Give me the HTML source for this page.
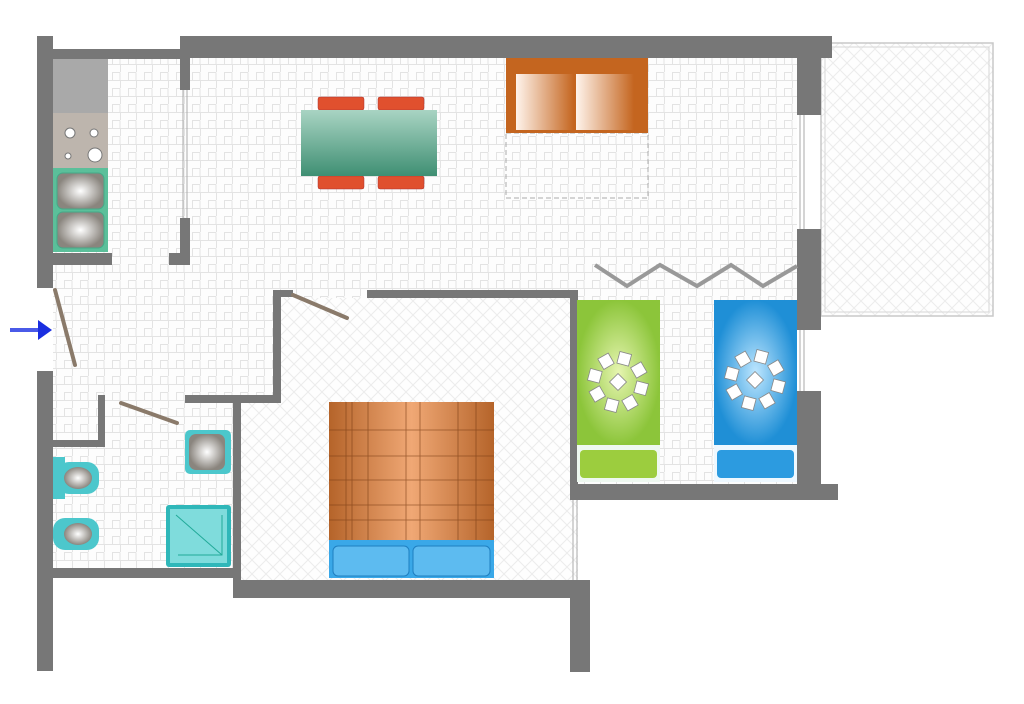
<!DOCTYPE html>
<html><head><meta charset="utf-8"><style>html,body{margin:0;padding:0;background:#fff}svg{display:block}</style></head><body>
<svg width="1024" height="704" viewBox="0 0 1024 704" xmlns="http://www.w3.org/2000/svg">
<defs>
<pattern id="tile" width="16" height="16" patternUnits="userSpaceOnUse">
<rect width="16" height="16" fill="#fdfdfd"/>
<path d="M0 0.5H16M0 8.5H8M8.5 0V8M0.5 8V16M8 8.5V16" stroke="#e3e3e3" stroke-width="1" fill="none"/>
</pattern>
<pattern id="diag" width="14" height="14" patternUnits="userSpaceOnUse">
<rect width="14" height="14" fill="#fefefe"/>
<path d="M0 0L14 14M14 0L0 14" stroke="#ececec" stroke-width="1"/>
</pattern>
<linearGradient id="tbl" x1="0" y1="0" x2="0" y2="1"><stop offset="0" stop-color="#a9d4c3"/><stop offset="1" stop-color="#3f8f73"/></linearGradient>
<linearGradient id="sofa" x1="0" y1="0" x2="1" y2="0"><stop offset="0" stop-color="#fff4ec"/><stop offset="1" stop-color="#c4651f"/></linearGradient>
<linearGradient id="bed" x1="0" y1="0" x2="1" y2="0"><stop offset="0" stop-color="#b5642a"/><stop offset="0.5" stop-color="#f0a875"/><stop offset="1" stop-color="#b5642a"/></linearGradient>
<radialGradient id="grn"><stop offset="0" stop-color="#e6f5b0"/><stop offset="1" stop-color="#8cc53a"/></radialGradient>
<radialGradient id="blu"><stop offset="0" stop-color="#bde6ff"/><stop offset="1" stop-color="#1f8fd6"/></radialGradient>
<radialGradient id="bowl"><stop offset="0" stop-color="#fff"/><stop offset="1" stop-color="#8a857e"/></radialGradient>
</defs>

<polygon points="53,58 797,58 797,484 578,484 578,580 240,580 240,568 53,568" fill="url(#tile)"/>
<polygon points="281,298 578,298 578,580 240,580 240,403 281,403" fill="url(#diag)"/>
<rect x="821" y="43" width="172" height="273" fill="url(#diag)" stroke="#c8c8c8" stroke-width="1.5"/>
<rect x="825" y="47" width="164" height="265" fill="none" stroke="#d6d6d6" stroke-width="1"/>

<g fill="#777">
<rect x="37" y="36" width="16" height="252"/>
<rect x="37" y="371" width="16" height="300"/>
<rect x="53" y="49" width="130" height="10"/>
<rect x="180" y="36" width="652" height="22"/>
<rect x="180" y="58" width="10" height="32"/>
<rect x="180" y="218" width="10" height="47"/>
<rect x="169" y="253" width="21" height="12"/>
<rect x="53" y="253" width="59" height="12"/>
<rect x="797" y="58" width="24" height="57"/>
<rect x="797" y="229" width="24" height="101"/>
<rect x="797" y="391" width="24" height="93"/>
<rect x="570" y="484" width="268" height="16"/>
<rect x="570" y="290" width="8" height="210"/>
<rect x="367" y="290" width="211" height="8"/>
<rect x="273" y="290" width="8" height="113"/>
<rect x="273" y="290" width="20" height="7"/>
<rect x="233" y="395" width="48" height="8"/>
<rect x="185" y="395" width="55" height="8"/>
<rect x="233" y="395" width="8" height="203"/>
<rect x="98" y="395" width="7" height="52"/>
<rect x="53" y="440" width="52" height="7"/>
<rect x="53" y="568" width="180" height="10"/>
<rect x="233" y="580" width="357" height="18"/>
<rect x="570" y="580" width="20" height="92"/>
</g>
<g stroke="#aaa" stroke-width="1" fill="none">
<path d="M183 90V218M187 90V218"/>
<path d="M800 115V229M804 115V229M800 330V391M804 330V391"/>
<path d="M573 500V580M577 500V580"/>
</g>

<rect x="53" y="59" width="55" height="54" fill="#a9a9a9"/>
<rect x="53" y="113" width="55" height="55" fill="#bdb5ad"/>
<g fill="#fff" stroke="#777"><circle cx="70" cy="133" r="5"/><circle cx="94" cy="133" r="4"/><circle cx="68" cy="156" r="3"/><circle cx="95" cy="155" r="7"/></g>
<rect x="53" y="168" width="55" height="84" fill="#5bbf9a"/>
<rect x="57" y="173" width="47" height="36" rx="6" fill="url(#bowl)" stroke="#4a8"/>
<rect x="57" y="212" width="47" height="36" rx="6" fill="url(#bowl)" stroke="#4a8"/>

<g fill="#e0502e" stroke="#a33" stroke-width="0.5">
<rect x="318" y="97" width="46" height="13" rx="2"/><rect x="378" y="97" width="46" height="13" rx="2"/>
<rect x="318" y="176" width="46" height="13" rx="2"/><rect x="378" y="176" width="46" height="13" rx="2"/>
</g>
<rect x="301" y="110" width="136" height="66" fill="url(#tbl)"/>

<rect x="506" y="133" width="142" height="65" fill="none" stroke="#aaa" stroke-dasharray="5,3"/>
<rect x="506" y="58" width="142" height="75" fill="#c4651f"/>
<rect x="516" y="74" width="58" height="56" fill="url(#sofa)"/>
<rect x="576" y="74" width="58" height="56" fill="url(#sofa)"/>

<g stroke="#8a7a6a" stroke-width="4" stroke-linecap="round">
<line x1="55" y1="290" x2="75" y2="365"/>
<line x1="293" y1="295" x2="347" y2="318"/>
<line x1="121" y1="403" x2="177" y2="423"/>
</g>
<path d="M10 330H40" stroke="#4a5ae8" stroke-width="4"/>
<polygon points="38,320 52,330 38,340" fill="#1a2ee0"/>

<polyline points="595,265 627,286 660,265 697,286 731,265 763,286 797,266" fill="none" stroke="#999" stroke-width="4"/>

<rect x="577" y="300" width="83" height="145" fill="url(#grn)"/>
<rect x="577" y="445" width="83" height="37" fill="#eef8f0"/>
<rect x="580" y="450" width="77" height="28" rx="4" fill="#9ccd3e"/>
<rect x="714" y="300" width="83" height="145" fill="url(#blu)"/>
<rect x="714" y="445" width="83" height="37" fill="#eef8ff"/>
<rect x="717" y="450" width="77" height="28" rx="4" fill="#2c9be0"/>
<g fill="#fff" stroke="#888" stroke-width="0.8">
<g transform="translate(618,382)"><rect x="-6" y="-6" width="12" height="12" transform="rotate(45)"/>
<rect x="-6" y="-30" width="12" height="12" transform="rotate(15)"/><rect x="-6" y="-30" width="12" height="12" transform="rotate(60)"/><rect x="-6" y="-30" width="12" height="12" transform="rotate(105)"/><rect x="-6" y="-30" width="12" height="12" transform="rotate(150)"/><rect x="-6" y="-30" width="12" height="12" transform="rotate(195)"/><rect x="-6" y="-30" width="12" height="12" transform="rotate(240)"/><rect x="-6" y="-30" width="12" height="12" transform="rotate(285)"/><rect x="-6" y="-30" width="12" height="12" transform="rotate(330)"/></g>
<g transform="translate(755,380)"><rect x="-6" y="-6" width="12" height="12" transform="rotate(45)"/>
<rect x="-6" y="-30" width="12" height="12" transform="rotate(15)"/><rect x="-6" y="-30" width="12" height="12" transform="rotate(60)"/><rect x="-6" y="-30" width="12" height="12" transform="rotate(105)"/><rect x="-6" y="-30" width="12" height="12" transform="rotate(150)"/><rect x="-6" y="-30" width="12" height="12" transform="rotate(195)"/><rect x="-6" y="-30" width="12" height="12" transform="rotate(240)"/><rect x="-6" y="-30" width="12" height="12" transform="rotate(285)"/><rect x="-6" y="-30" width="12" height="12" transform="rotate(330)"/></g>
</g>

<rect x="329" y="402" width="165" height="138" fill="url(#bed)"/>
<g stroke="#7a3d14" stroke-width="0.8" opacity="0.7">
<path d="M346 402V540M352 402V540M368 402V540M406 402V540M420 402V540M458 402V540M476 402V540"/>
<path d="M329 430H494M329 456H494M329 480H494M329 505H494M329 520H494"/>
</g>
<rect x="329" y="540" width="165" height="38" fill="#3aa8e8"/>
<rect x="333" y="546" width="76" height="30" rx="5" fill="#5dbbf0" stroke="#1f7fc0"/>
<rect x="413" y="546" width="77" height="30" rx="5" fill="#5dbbf0" stroke="#1f7fc0"/>

<rect x="185" y="430" width="46" height="44" rx="5" fill="#4cc7cc"/>
<rect x="189" y="434" width="36" height="36" rx="7" fill="url(#bowl)"/>
<rect x="53" y="457" width="12" height="42" fill="#4cc7cc"/>
<rect x="57" y="462" width="42" height="32" rx="12" fill="#4cc7cc"/><ellipse cx="78" cy="478" rx="14" ry="11" fill="url(#bowl)"/>
<rect x="53" y="518" width="46" height="32" rx="12" fill="#4cc7cc"/><ellipse cx="78" cy="534" rx="14" ry="11" fill="url(#bowl)"/>
<rect x="166" y="505" width="65" height="62" rx="3" fill="#2fb7b9"/>
<rect x="170" y="509" width="57" height="54" fill="#7fdcdc"/>
<path d="M176 515L222 555M178 555H222V515" stroke="#2a9" fill="none"/>
</svg>
</body></html>
